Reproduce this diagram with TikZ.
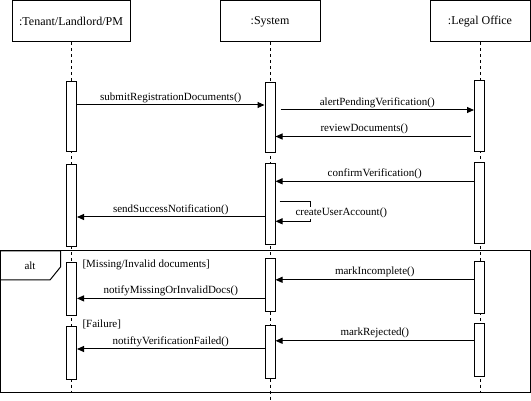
\documentclass[tikz,border=0pt]{standalone}
\usepackage{fontspec}
\setmainfont{Liberation Serif}
\usetikzlibrary{arrows.meta}

\begin{document}
\begin{tikzpicture}[x=1pt, y=-1pt, line width=1pt,
  obj/.style={draw, fill=white, minimum width=100pt, minimum height=41pt, anchor=north, inner sep=0pt, font=\fontsize{12}{14}\selectfont},
  act/.style={draw, fill=white, minimum width=10pt, anchor=north, inner sep=0pt},
  lifeline/.style={dash pattern=on 3pt off 3pt},
  msg/.style={-{Triangle[length=7pt, width=6pt]}},
  lbl/.style={font=\fontsize{11}{13}\selectfont, above, inner sep=2pt},
  guard/.style={font=\fontsize{11}{13}\selectfont, anchor=west, inner sep=0pt}]
  \useasboundingbox (0,0) rectangle (531,401);

  % alt frame
  \draw (0.5,251) rectangle (530,392.5);
  \draw (0.5,251) -- (60.5,251) -- (60.5,267) -- (50,280) -- (0.5,280);
  \node[guard, anchor=center] (altlbl) at (30,266) {alt};

  % Objects
  \node[obj, minimum width=118pt] (tenant) at (71,0.5) {:Tenant/Landlord/PM};
  \node[obj] (sys) at (270,0.5) {:System};
  \node[obj] (legal) at (480,0.5) {:Legal Office};

  % Lifelines
  \draw[lifeline] (tenant.south) -- (tenant |- 0,392);
  \draw[lifeline] (sys.south) -- (sys |- 0,401);
  \draw[lifeline] (legal.south) -- (legal |- 0,392);

  % Tenant activations
  \node[act, minimum height=70pt] (tact1) at (71.5,80.6) {};
  \node[act, minimum height=81.6pt] (tact2) at (71.5,164.4) {};
  \node[act, minimum height=52.5pt] (tact3) at (71.5,262.5) {};
  \node[act, minimum height=52.5pt] (tact4) at (71.5,326.5) {};

  % System activations
  \node[act, minimum height=70.5pt] (sact1) at (270,82) {};
  \node[act, minimum height=81.3pt] (sact2) at (270,162.7) {};
  \node[act, minimum height=52.8pt] (sact3) at (270,258.5) {};
  \node[act, minimum height=53pt] (sact4) at (270,325.2) {};

  % Legal office activations
  \node[act, minimum height=71pt] (lact1) at (479.5,79.6) {};
  \node[act, minimum height=81pt] (lact2) at (479.5,161.7) {};
  \node[act, minimum height=52.5pt] (lact3) at (479.5,260.8) {};
  \node[act, minimum height=53pt] (lact4) at (479.5,323) {};

  % Registration
  \draw[msg] (tact1.east |- 0,105) -- (sact1.west |- 0,105)
    node[lbl, midway] {submitRegistrationDocuments()};
  \draw[msg] (sact1.east |- 0,110) ++(5,0) -- (lact1.west |- 0,110)
    node[lbl, midway] {alertPendingVerification()};
  \draw[msg] (lact1.west |- 0,136.5) ++(-3,0) -- (sact1.east |- 0,136.5)
    node[lbl, midway, xshift=-9pt] {reviewDocuments()};

  % Verification
  \draw[msg] (lact2.west |- 0,181.3) -- (sact2.east |- 0,181.3)
    node[lbl, midway] {confirmVerification()};
  \draw[msg] (sact2.east |- 0,201.3) ++(4,0) -- ++(31,0) |- (sact2.east |- 0,221.3);
  \node[guard, fill=white, inner sep=1pt] (selflbl) at (294,213) {createUserAccount()};
  \draw[msg] (sact2.west |- 0,217) -- (tact2.east |- 0,217)
    node[lbl, midway] {sendSuccessNotification()};

  % alt: missing or invalid documents
  \node[guard] (g1) at (82,265.2) {[Missing/Invalid documents]};
  \draw[msg] (lact3.west |- 0,279.8) -- (sact3.east |- 0,279.8)
    node[lbl, midway] {markIncomplete()};
  \draw[msg] (sact3.west |- 0,298.4) -- (tact3.east |- 0,298.4)
    node[lbl, midway] {notifyMissingOrInvalidDocs()};

  % alt: failure
  \node[guard] (g2) at (82,324.5) {[Failure]};
  \draw[msg] (lact4.west |- 0,340.8) -- (sact4.east |- 0,340.8)
    node[lbl, midway] {markRejected()};
  \draw[msg] (sact4.west |- 0,349) -- (tact4.east |- 0,349)
    node[lbl, midway] {notiftyVerificationFailed()};
\end{tikzpicture}
\end{document}
